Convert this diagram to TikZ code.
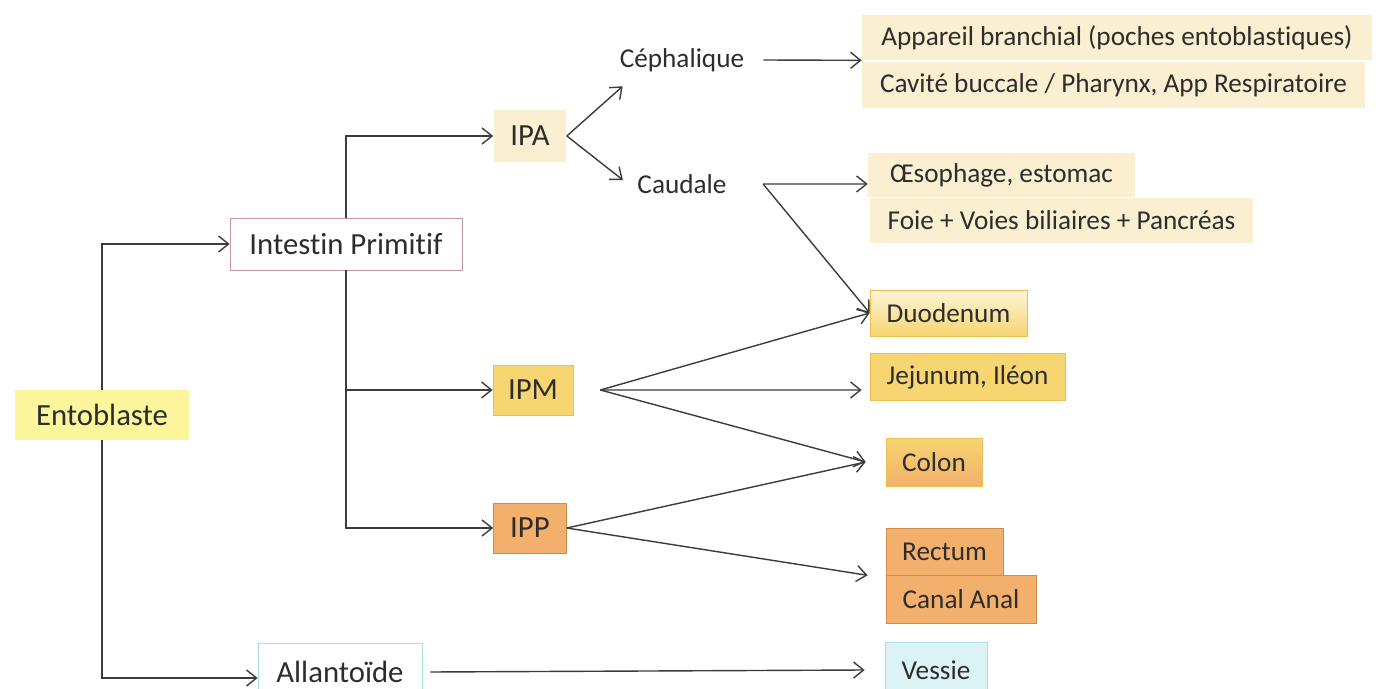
\documentclass[tikz,border=0pt]{standalone}
\usepackage{fontspec}
\setmainfont{Carlito}[Ligatures=NoCommon]
\usepackage{tikz}
\usetikzlibrary{arrows.meta, positioning, shapes}
\definecolor{texte}{RGB}{45,45,45}
\definecolor{trait}{RGB}{60,60,60}
\definecolor{jaunepale}{RGB}{251,245,155}
\definecolor{creme}{RGB}{251,239,210}
\definecolor{cremepale}{RGB}{253,244,218}
\definecolor{dore}{RGB}{247,213,112}
\definecolor{doreb}{RGB}{234,190,80}
\definecolor{abricot}{RGB}{243,176,108}
\definecolor{abricotb}{RGB}{210,140,75}
\definecolor{azur}{RGB}{220,243,246}
\definecolor{azurb}{RGB}{168,222,228}
\definecolor{rosee}{RGB}{200,150,158}
\tikzset{
    boite/.style={rectangle, text=texte, inner sep=0pt, font=\fontsize{15.5}{19}\selectfont},
    grande/.style={boite, font=\fontsize{17.5}{21}\selectfont},
    mot/.style={text=texte, inner sep=1pt, font=\fontsize{15.5}{19}\selectfont},
    fleche/.style={-{Straight Barb[length=2mm,width=3.2mm]}, trait, line width=0.8pt},
}
\begin{document}
\begin{tikzpicture}[x=0.02cm, y=-0.02cm]
    \useasboundingbox (0,0) rectangle (1390,689);
    \clip (0,0) rectangle (1390,689);
    \fill[white] (0,0) rectangle (1390,689);

    \node[grande, fill=jaunepale, minimum width=3.5cm, minimum height=1cm] (ento) at (102,415) {Entoblaste};
    \node[grande, draw=rosee, fill=white, minimum width=4.64cm, minimum height=1.04cm] (intp) at (346,244) {Intestin Primitif};
    \node[grande, fill=creme, minimum width=1.46cm, minimum height=1.04cm] (ipa) at (530,136) {IPA};
    \node[grande, draw=doreb, fill=dore, minimum width=1.6cm, minimum height=1cm] (ipm) at (533,390) {IPM};
    \node[grande, draw=abricotb, fill=abricot, minimum width=1.46cm, minimum height=1cm] (ipp) at (530,528) {IPP};
    \node[grande, draw=azurb, fill=white, minimum width=3.28cm, minimum height=1.16cm] (allan) at (340,672) {Allantoïde};

    \node[mot] (ceph) at (682,60) {Céphalique};
    \node[mot] (caud) at (682,184) {Caudale};

    \node[boite, fill=creme, minimum width=10.2cm, minimum height=0.9cm] (appb) at (1117,37.5) {Appareil branchial (poches entoblastiques)};
    \node[boite, fill=creme, minimum width=10.06cm, minimum height=0.92cm] (cavb) at (1113.5,85) {Cavité buccale / Pharynx, App Respiratoire};
    \node[boite, fill=creme, minimum width=5.34cm, minimum height=0.88cm] (oeso) at (1001.5,175) {Œsophage, estomac};
    \node[boite, fill=creme, minimum width=7.66cm, minimum height=0.9cm] (foie) at (1061.5,220.5) {Foie + Voies biliaires + Pancréas};
    \node[boite, draw=doreb, top color=cremepale, bottom color=dore, minimum width=3.14cm, minimum height=0.92cm] (duod) at (948.5,313) {Duodenum};
    \node[boite, draw=doreb, fill=dore, minimum width=3.9cm, minimum height=0.94cm] (jeju) at (967.5,377) {Jejunum, Iléon};
    \node[boite, draw=doreb, top color=dore, bottom color=abricot, minimum width=1.92cm, minimum height=0.96cm] (colon) at (934,462) {Colon};
    \node[boite, draw=abricotb, fill=abricot, minimum width=2.34cm, minimum height=0.94cm] (rect) at (944.5,551.5) {Rectum};
    \node[boite, draw=abricotb, fill=abricot, minimum width=3cm, minimum height=0.96cm] (canal) at (961,599) {Canal Anal};
    \node[boite, draw=azurb, fill=azur, minimum width=2.04cm, minimum height=1.12cm] (vess) at (936,670) {Vessie};

    \coordinate (caudout) at ([xshift=0.69cm]caud.east);
    \coordinate (ipmout) at ([xshift=0.54cm]ipm.east);

    \draw[fleche] (ento.north) |- (intp.west);
    \draw[fleche] (ento.south) |- ([yshift=-0.12cm]allan.west);
    \draw[fleche] (intp.north) |- (ipa.west);
    \draw[fleche] (intp.south) |- (ipm.west);
    \draw[fleche] (intp.south) |- (ipp.west);

    \draw[fleche] (ipa.east) -- ([xshift=0.1cm,yshift=-0.25cm]ceph.south west);
    \draw[fleche] (ipa.east) -- ([xshift=-0.25cm,yshift=0.08cm]caud.west);
    \draw[fleche] ([xshift=0.34cm]ceph.east) -- (appb.south west);
    \draw[fleche] (caudout) -- ([yshift=-0.18cm]oeso.west);
    \draw[fleche] (caudout) -- (duod.west);

    \draw[fleche] (ipmout) -- (duod.west);
    \draw[fleche] (ipmout) -- ([xshift=-0.16cm,yshift=-0.26cm]jeju.west);
    \draw[fleche] (ipmout) -- ([xshift=-0.4cm]colon.west);
    \draw[fleche] (ipp.east) -- ([xshift=-0.4cm]colon.west);
    \draw[fleche] (ipp.east) -- ([xshift=-0.36cm]rect.south west);
    \draw[fleche] ([xshift=0.16cm]allan.east) -- ([xshift=-0.4cm]vess.west);
\end{tikzpicture}
\end{document}
